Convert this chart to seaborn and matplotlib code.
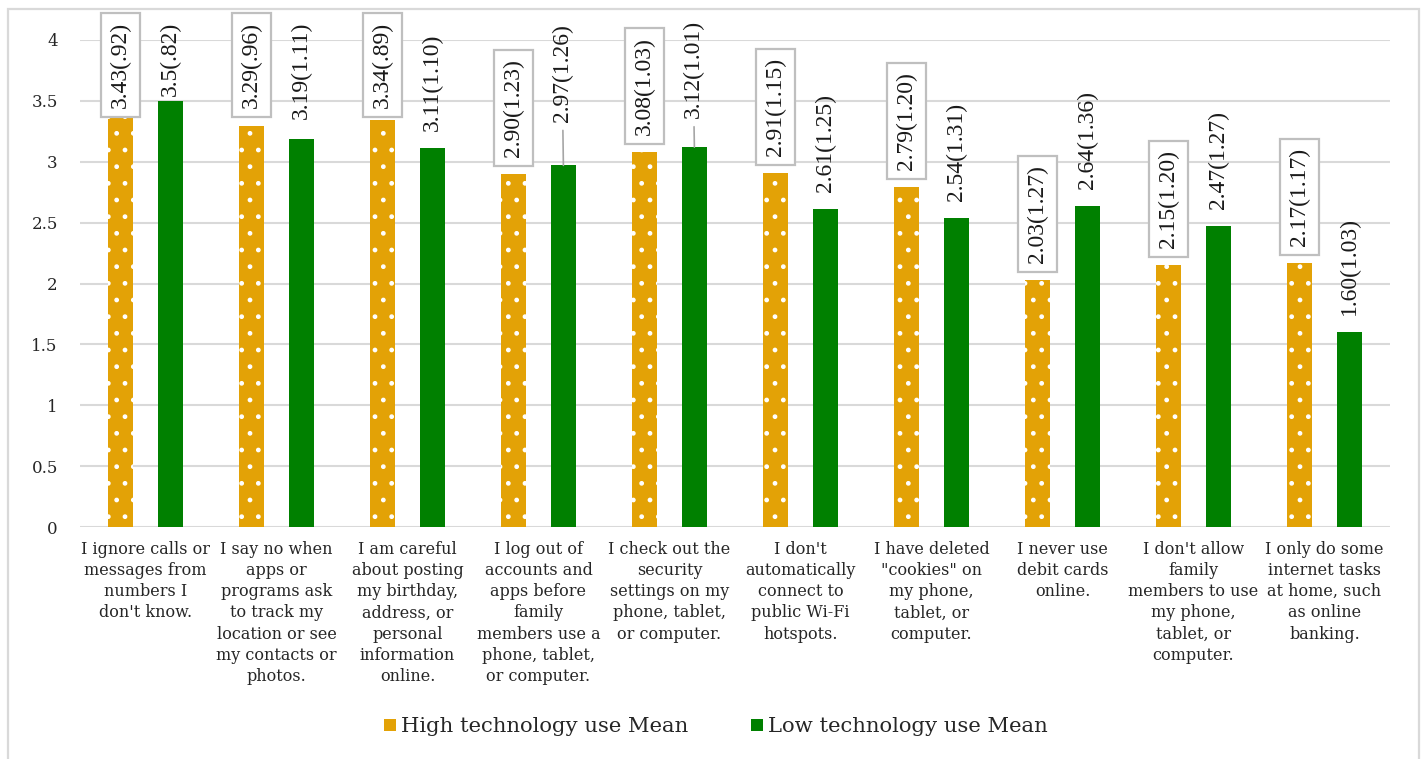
import matplotlib
matplotlib.use("Agg")
import matplotlib.pyplot as plt
import matplotlib.patches as mpatches
import pandas as pd
import seaborn as sns

# ---- data -------------------------------------------------------------
categories = [
    "I ignore calls or\nmessages from\nnumbers I\ndon't know.",
    "I say no when\napps or\nprograms ask\nto track my\nlocation or see\nmy contacts or\nphotos.",
    "I am careful\nabout posting\nmy birthday,\naddress, or\npersonal\ninformation\nonline.",
    "I log out of\naccounts and\napps before\nfamily\nmembers use a\nphone, tablet,\nor computer.",
    "I check out the\nsecurity\nsettings on my\nphone, tablet,\nor computer.",
    "I don't\nautomatically\nconnect to\npublic Wi-Fi\nhotspots.",
    "I have deleted\n\"cookies\" on\nmy phone,\ntablet, or\ncomputer.",
    "I never use\ndebit cards\nonline.",
    "I don't allow\nfamily\nmembers to use\nmy phone,\ntablet, or\ncomputer.",
    "I only do some\ninternet tasks\nat home, such\nas online\nbanking.",
]
series = ["High technology use Mean", "Low technology use Mean"]

high_mean_txt = ["3.43", "3.29", "3.34", "2.90", "3.08", "2.91", "2.79", "2.03", "2.15", "2.17"]
high_sd_txt = [".92", ".96", ".89", "1.23", "1.03", "1.15", "1.20", "1.27", "1.20", "1.17"]
low_mean_txt = ["3.5", "3.19", "3.11", "2.97", "3.12", "2.61", "2.54", "2.64", "2.47", "1.60"]
low_sd_txt = [".82", "1.11", "1.10", "1.26", "1.01", "1.25", "1.31", "1.36", "1.27", "1.03"]

high_mean = [float(t) for t in high_mean_txt]
low_mean = [float(t) for t in low_mean_txt]

yticks = [0, 0.5, 1, 1.5, 2, 2.5, 3, 3.5, 4]
ytick_labels = ["0", "0.5", "1", "1.5", "2", "2.5", "3", "3.5", "4"]

# ---- styling ----------------------------------------------------------
ORANGE = "#E3A206"
GREEN = "#008000"
GRID = "#D9D9D9"
BOX_EDGE = "#BFBFBF"
AXIS_FONT = ["DejaVu Serif"]
LABEL_FONT = ["Liberation Serif", "DejaVu Serif"]

sns.set_theme(style="whitegrid")
plt.rcParams["font.family"] = AXIS_FONT
plt.rcParams["hatch.linewidth"] = 1.0

df = pd.DataFrame({
    "category": categories * 2,
    "series": [series[0]] * len(categories) + [series[1]] * len(categories),
    "value": high_mean + low_mean,
})

fig = plt.figure(figsize=(14.21, 7.59), dpi=100)
ax = fig.add_axes([80 / 1421, 1 - 527 / 759, (1390 - 80) / 1421, (527 - 40) / 759])

sns.barplot(
    data=df, x="category", y="value", hue="series",
    order=categories, hue_order=series,
    palette=[ORANGE, GREEN], width=0.76, gap=0.5,
    saturation=1, legend=False, ax=ax, errorbar=None,
)

# dotted fill on the high-use bars
for bar in ax.containers[0]:
    bar.set_hatch(".")
    bar.set_edgecolor("white")
    bar.set_linewidth(0)
for bar in ax.containers[1]:
    bar.set_edgecolor(GREEN)
    bar.set_linewidth(0)

ax.set_ylim(0, 4)
ax.set_xlim(-0.5, len(categories) - 0.5)
ax.set_yticks(yticks)
ax.set_yticklabels(ytick_labels, fontsize=12, color="#262626")
ax.set_xticks(range(len(categories)))
ax.set_xticklabels(categories, fontsize=11.5, color="#262626", linespacing=1.32)
ax.tick_params(axis="y", length=0, pad=16)
ax.tick_params(axis="x", length=0, pad=10)
ax.set_xlabel("")
ax.set_ylabel("")
ax.grid(axis="y", color=GRID, linewidth=1.5)
ax.grid(axis="x", visible=False)
ax.set_axisbelow(True)
for s in ax.spines.values():
    s.set_visible(False)

# ---- data labels ------------------------------------------------------
OFFSET = 0.14      # gap between bar top and label, in data units
EST_LEN = 0.85     # approximate label length, in data units
TOP_CAP = 4.15     # labels are kept below this height
# labels that were dragged away from their bars (drawn with a leader line)
moved = {(1, 3): 3.33, (1, 4): 3.36}

label_sets = [
    (ax.containers[0], high_mean, high_mean_txt, high_sd_txt, True),
    (ax.containers[1], low_mean, low_mean_txt, low_sd_txt, False),
]
for si, (container, means, mtxt, sdtxt, boxed) in enumerate(label_sets):
    for i, (bar, v) in enumerate(zip(container, means)):
        xc = bar.get_x() + bar.get_width() / 2
        text = f"{mtxt[i]}({sdtxt[i]})"
        kw = dict(rotation=90, ha="center", fontsize=17, family=LABEL_FONT,
                  color="#1a1a1a", textcoords="data", annotation_clip=False)
        if boxed:
            kw["bbox"] = dict(boxstyle="square,pad=0.38", fc="white",
                              ec=BOX_EDGE, lw=1.6)
        if (si, i) in moved:
            ax.annotate(text, xy=(xc, v), xytext=(xc - 0.01, moved[(si, i)]),
                        va="bottom",
                        arrowprops=dict(arrowstyle="-", color="#A6A6A6", lw=1.2,
                                        shrinkA=4, shrinkB=0),
                        **kw)
        elif v + OFFSET + EST_LEN > TOP_CAP:
            ax.annotate(text, xy=(xc, v), xytext=(xc, TOP_CAP), va="top", **kw)
        else:
            ax.annotate(text, xy=(xc, v), xytext=(xc, v + OFFSET), va="bottom", **kw)

# ---- legend -----------------------------------------------------------
handles = [
    mpatches.Patch(facecolor=ORANGE, edgecolor="white", hatch=".", linewidth=0,
                   label=series[0]),
    mpatches.Patch(facecolor=GREEN, edgecolor=GREEN, linewidth=0, label=series[1]),
]
fig.legend(handles=handles, loc="center", bbox_to_anchor=(716 / 1421, 1 - 727 / 759),
           ncol=2, frameon=False, fontsize=15.2, handlelength=0.55, handleheight=0.55,
           handletextpad=0.25, columnspacing=3.0, borderaxespad=0)

# chart border
fig.patches.append(mpatches.Rectangle(
    (7.5 / 1421, -0.02), (1419 - 7.5) / 1421, 1.02 - 8.5 / 759,
    transform=fig.transFigure, fill=False, edgecolor=GRID, linewidth=1.6))

fig.savefig("out.png", dpi=100)
